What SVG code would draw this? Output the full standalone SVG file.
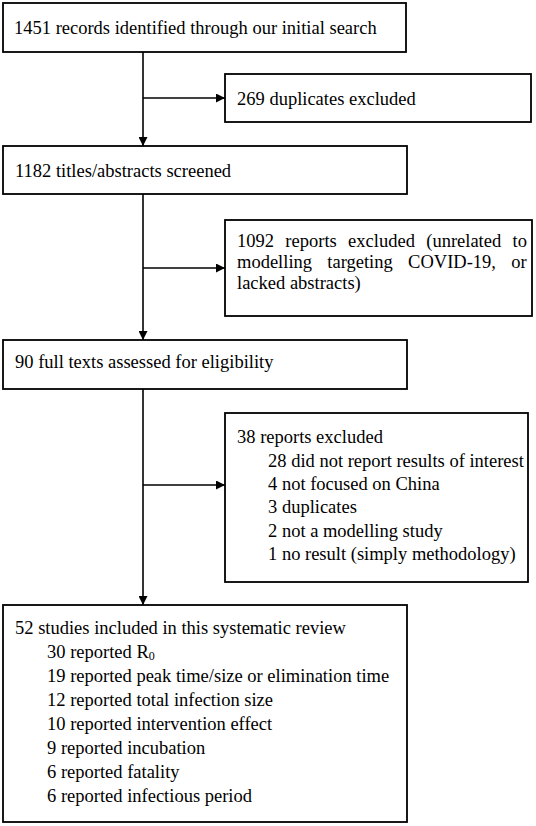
<svg xmlns="http://www.w3.org/2000/svg" width="536" height="826" viewBox="0 0 536 826">
<defs>
<marker id="arr" viewBox="0 0 10 10" refX="10" refY="5" markerWidth="9" markerHeight="9" markerUnits="userSpaceOnUse" orient="auto">
<path d="M0,0 L10,5 L0,10 Z" fill="#000"/>
</marker>
<style>
.box{fill:#fff;stroke:#000;stroke-width:1.8}
.t{font-family:"Liberation Serif","Times New Roman",serif;font-size:18.5px;fill:#000}
.c{fill:none;stroke:#000;stroke-width:1.6}
</style>
</defs>
<rect width="536" height="826" fill="#fff"/>
<g id="connectors">
<line class="c" x1="143" y1="52" x2="143" y2="146" marker-end="url(#arr)"/>
<line class="c" x1="143" y1="98" x2="225" y2="98" marker-end="url(#arr)"/>
<line class="c" x1="143" y1="194" x2="143" y2="340" marker-end="url(#arr)"/>
<line class="c" x1="143" y1="268" x2="225" y2="268" marker-end="url(#arr)"/>
<line class="c" x1="143" y1="389" x2="143" y2="605" marker-end="url(#arr)"/>
<line class="c" x1="143" y1="485" x2="225" y2="485" marker-end="url(#arr)"/>
</g>
<g id="n1">
<rect class="box" x="3" y="3" width="403" height="49"/>
<text class="t" x="14" y="34">1451 records identified through our initial search</text>
</g>
<g id="n2">
<rect class="box" x="225" y="74" width="306" height="48"/>
<text class="t" x="237" y="105">269 duplicates excluded</text>
</g>
<g id="n3">
<rect class="box" x="3" y="146" width="404" height="48"/>
<text class="t" x="15" y="177">1182 titles/abstracts screened</text>
</g>
<g id="n4">
<rect class="box" x="225" y="220" width="307" height="96"/>
<text class="t" x="237" y="247" word-spacing="6.74">1092 reports excluded (unrelated to</text>
<text class="t" x="237" y="268" word-spacing="10.7">modelling targeting COVID-19, or</text>
<text class="t" x="237" y="289">lacked abstracts)</text>
</g>
<g id="n5">
<rect class="box" x="3" y="340" width="404" height="49"/>
<text class="t" x="15" y="368">90 full texts assessed for eligibility</text>
</g>
<g id="n6">
<rect class="box" x="225" y="413" width="303" height="169"/>
<text class="t" x="237" y="443">38 reports excluded</text>
<text class="t" x="268" y="467">28 did not report results of interest</text>
<text class="t" x="268" y="490">4 not focused on China</text>
<text class="t" x="268" y="513">3 duplicates</text>
<text class="t" x="268" y="537">2 not a modelling study</text>
<text class="t" x="268" y="560">1 no result (simply methodology)</text>
</g>
<g id="n7">
<rect class="box" x="3" y="605" width="404" height="217"/>
<text class="t" x="15" y="634">52 studies included in this systematic review</text>
<text class="t" x="47" y="658">30 reported R<tspan font-size="12" dy="2">0</tspan></text>
<text class="t" x="47" y="682">19 reported peak time/size or elimination time</text>
<text class="t" x="47" y="706">12 reported total infection size</text>
<text class="t" x="47" y="730">10 reported intervention effect</text>
<text class="t" x="47" y="754">9 reported incubation</text>
<text class="t" x="47" y="778">6 reported fatality</text>
<text class="t" x="47" y="802">6 reported infectious period</text>
</g>
</svg>
